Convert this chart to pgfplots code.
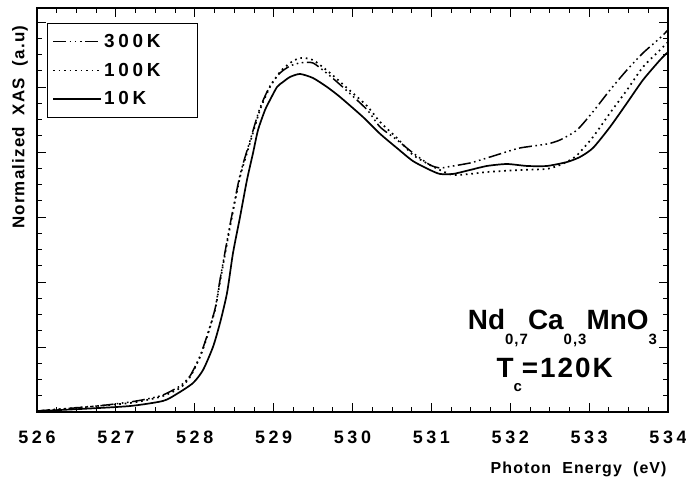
\documentclass[border=0pt]{standalone}
\usepackage{fontspec}
\setmainfont{Liberation Sans}
\newfontfamily\spaced{Liberation Sans}[LetterSpace=20]
\newfontfamily\lspaced{Liberation Sans}[LetterSpace=7]
\usepackage{pgfplots}
\pgfplotsset{compat=1.18}
\usepackage{pgfplotstable}

% O K-edge XAS spectra of Nd0.7Ca0.3MnO3 (photon energy in eV, normalized intensity)
\pgfplotstableread{
E       I
526.000 0.015
526.761 0.092
527.179 0.154
527.395 0.200
527.597 0.262
527.813 0.400
527.940 0.554
528.067 0.862
528.155 1.169
528.257 1.585
528.320 2.030
528.447 2.877
528.574 3.646
528.700 4.169
528.827 4.677
528.954 5.015
529.081 5.215
529.208 5.323
529.334 5.369
529.499 5.369
529.715 5.170
529.930 4.940
530.184 4.650
530.349 4.385
530.564 4.185
530.767 3.985
530.983 3.800
531.109 3.754
531.198 3.769
531.490 3.831
531.705 3.908
531.908 3.985
532.124 4.062
532.466 4.123
532.631 4.185
532.846 4.338
533.049 4.620
533.265 4.954
533.480 5.262
533.683 5.523
533.899 5.754
534.000 5.877
}\tK

\pgfplotstableread{
E       I
526.000 0.015
526.761 0.092
527.179 0.138
527.395 0.185
527.597 0.246
527.813 0.369
527.940 0.538
528.067 0.846
528.155 1.154
528.257 1.569
528.320 2.000
528.447 2.846
528.574 3.615
528.700 4.138
528.827 4.646
528.954 5.000
529.081 5.231
529.208 5.369
529.334 5.446
529.499 5.415
529.715 5.215
529.930 4.985
530.184 4.708
530.349 4.462
530.564 4.215
530.767 3.954
530.983 3.800
531.109 3.723
531.274 3.646
531.490 3.662
531.705 3.692
531.908 3.708
532.124 3.723
532.466 3.740
532.631 3.800
532.720 3.850
532.846 3.950
533.049 4.231
533.265 4.600
533.480 4.954
533.683 5.308
533.899 5.569
534.000 5.692
}\hK

\pgfplotstableread{
E       I
526.000 0.015
526.545 0.046
527.179 0.092
527.597 0.170
527.775 0.280
527.978 0.446
528.105 0.646
528.231 1.000
528.320 1.369
528.409 1.830
528.485 2.446
528.574 3.000
528.662 3.569
528.739 3.985
528.802 4.338
528.891 4.646
528.954 4.800
529.043 5.000
529.119 5.077
529.208 5.154
529.334 5.200
529.499 5.138
529.677 5.000
529.842 4.846
530.133 4.538
530.349 4.280
530.564 4.060
530.767 3.860
530.983 3.723
531.109 3.662
531.274 3.662
531.490 3.723
531.705 3.785
531.959 3.815
532.212 3.785
532.466 3.785
532.720 3.846
532.884 3.923
533.049 4.062
533.265 4.385
533.480 4.754
533.683 5.108
533.899 5.415
534.000 5.538
}\tenK

\begin{document}
\begin{tikzpicture}
\begin{axis}[
  scale only axis,
  width=631bp, height=404bp,
  xmin=526, xmax=534, ymin=0, ymax=6.215,
  xtick={526,527,...,534},
  xticklabels={526,527,528,529,530,531,532,533,534},
  minor x tick num=3,
  ytick={0,1,...,6},
  yticklabels={},
  minor y tick num=3,
  tick align=inside,
  major tick length=9bp, minor tick length=5bp,
  tick style={black, line width=0.8bp},
  axis line style={line width=1.5bp},
  xticklabel style={font=\spaced\bfseries\fontsize{18}{18}\selectfont, inner sep=0pt, anchor=north, yshift=-19bp},
  xlabel={Photon\hspace{0.7em}Energy\hspace{0.7em}(eV)},
  xlabel style={font=\lspaced\bfseries\fontsize{16}{16}\selectfont, at={(axis description cs:0.998,0)}, anchor=east, yshift=-57bp, inner sep=0pt},
  ylabel={Normalized\hspace{0.7em}XAS\hspace{0.7em}(a.u)},
  ylabel style={font=\lspaced\bfseries\fontsize{17}{17}\selectfont, at={(axis description cs:-0.027,0.705)}, anchor=center, rotate=0, inner sep=0pt},
  legend image code/.code={\draw[#1] (0bp,0bp) -- (48bp,0bp);},
  legend cell align=left,
  legend style={at={(axis description cs:0.0158,0.9629)}, anchor=north west,
    draw=black, line width=0.8bp, font=\spaced\bfseries\fontsize{19}{19}\selectfont,
    inner xsep=5bp, inner ysep=9bp, row sep=10bp},
]
\addplot[black, line width=1.5bp, smooth, tension=0.4,
  dash pattern=on 13bp off 3.5bp on 1.6bp off 3.5bp on 1.6bp off 3.5bp on 1.6bp off 3.5bp]
  table[x=E, y=I] {\tK};
\addlegendentry{300K\hspace*{30bp}}
\addplot[black, line width=1.7bp, smooth, tension=0.4, dash pattern=on 1.7bp off 3.8bp]
  table[x=E, y=I] {\hK};
\addlegendentry{100K\hspace*{30bp}}
\addplot[black, line width=1.7bp, smooth, tension=0.4]
  table[x=E, y=I] {\tenK};
\addlegendentry{10K\hspace*{30bp}}

\node[anchor=base east, inner sep=0pt, font=\bfseries\fontsize{28}{28}\selectfont]
  at (rel axis cs:0.9826,0.203)
  {Nd\raisebox{-15bp}{\lspaced\fontsize{15}{15}\selectfont 0,7}Ca\raisebox{-15bp}{\lspaced\fontsize{15}{15}\selectfont 0,3}MnO\raisebox{-15bp}{\fontsize{15}{15}\selectfont 3}};
\node[anchor=base east, inner sep=0pt, font=\lspaced\bfseries\fontsize{28}{28}\selectfont]
  at (rel axis cs:0.9128,0.0866)
  {T\raisebox{-14bp}{\fontsize{15}{15}\selectfont c}=120K};
\end{axis}
\pgfresetboundingbox
\useasboundingbox ([shift={(-37bp,-73bp)}]current axis.south west) rectangle ([shift={(18bp,8bp)}]current axis.north east);
\end{tikzpicture}
\end{document}
